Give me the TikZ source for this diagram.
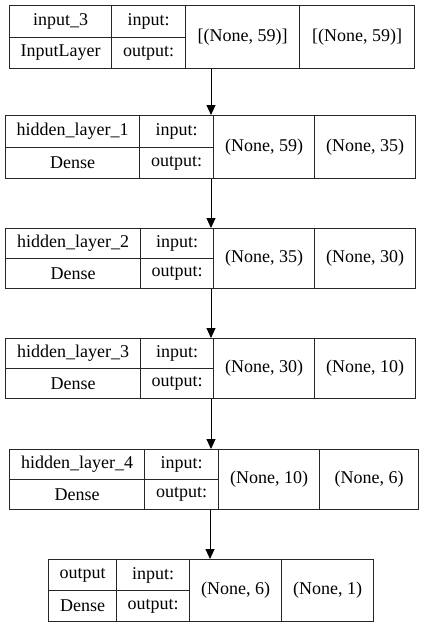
\documentclass[tikz,border=0pt]{standalone}
\usepackage{fontspec}
\setmainfont{Liberation Serif}
\usetikzlibrary{arrows.meta}
\begin{document}
\begin{tikzpicture}[x=1pt,y=-1pt,
  cell/.style={draw=black!85, line width=1.3pt, inner sep=0pt, anchor=north west,
    font=\fontsize{18}{20}\selectfont},
  flow/.style={line width=0.9pt, -{Triangle[length=10pt,width=9pt]}}]
\useasboundingbox (0,0) rectangle (421,627);
% one layer per entry: name / column edges / top / bottom / layer name / layer type / input shape / output shape
\foreach \n/\xa/\xb/\xc/\xd/\xe/\yt/\yb/\nm/\ty/\din/\dout in {
  L1/9/111/185/299/414/5/68/input\_3/InputLayer/{[(None, 59)]}/{[(None, 59)]},
  L2/5/139/213/314/415/115/178/hidden\_layer\_1/Dense/{(None, 59)}/{(None, 35)},
  L3/5/140/213/314/415/228/288/hidden\_layer\_2/Dense/{(None, 35)}/{(None, 30)},
  L4/5/140/213/314/415/338/398/hidden\_layer\_3/Dense/{(None, 30)}/{(None, 10)},
  L5/9/144/218/319/418/449/509/hidden\_layer\_4/Dense/{(None, 10)}/{(None, 6)},
  L6/48/116/189/281/373/559/621/output/Dense/{(None, 6)}/{(None, 1)}}{
  \pgfmathsetmacro\hh{(\yb-\yt)/2}
  \pgfmathsetmacro\ym{\yt+\hh}
  \node[cell, minimum width=\xe-\xa, minimum height=\yb-\yt] (\n) at (\xa,\yt) {};
  \node[cell, minimum width=\xb-\xa, minimum height=\hh] (\n-name) at (\xa,\yt) {\nm};
  \node[cell, minimum width=\xb-\xa, minimum height=\hh] (\n-type) at (\xa,\ym) {\ty};
  \node[cell, minimum width=\xc-\xb, minimum height=\hh] (\n-inl) at (\xb,\yt) {input:};
  \node[cell, minimum width=\xc-\xb, minimum height=\hh] (\n-outl) at (\xb,\ym) {output:};
  \node[cell, minimum width=\xd-\xc, minimum height=\yb-\yt] (\n-in) at (\xc,\yt) {\din};
  \node[cell, minimum width=\xe-\xd, minimum height=\yb-\yt] (\n-out) at (\xd,\yt) {\dout};
}
\coordinate (a) at (211,0);
\coordinate (b) at (210,0);
\draw[flow] (L1.south -| a) -- (L2.north -| a);
\draw[flow] (L2.south -| a) -- (L3.north -| a);
\draw[flow] (L3.south -| a) -- (L4.north -| a);
\draw[flow] (L4.south -| a) -- (L5.north -| a);
\draw[flow] (L5.south -| b) -- (L6.north -| b);
\end{tikzpicture}
\end{document}
